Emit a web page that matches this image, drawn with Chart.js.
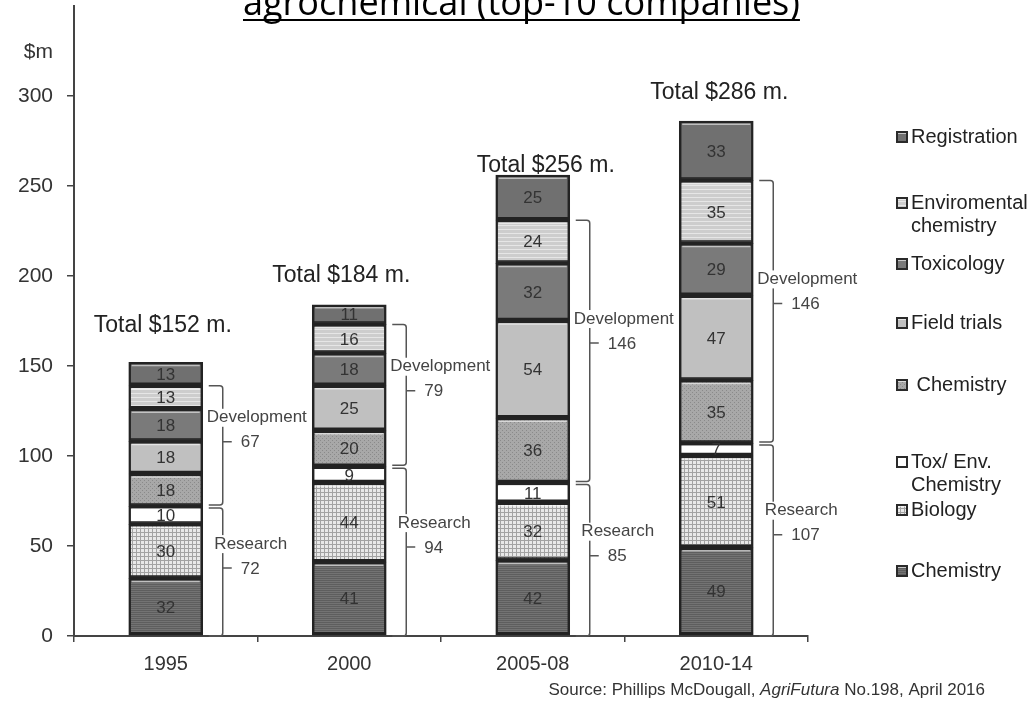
<!DOCTYPE html>
<html>
<head>
<meta charset="utf-8">
<script src="https://cdn.jsdelivr.net/npm/chart.js@4"></script>
<style>
  html, body { margin: 0; padding: 0; background: #fff; }
  #wrap { position: relative; width: 1036px; height: 712px; }
</style>
</head>
<body>
<div id="wrap"><canvas id="chart"></canvas></div>
<script>
// data ($m)
const periods = ["1995", "2000", "2005-08", "2010-14"];
const chemistryResearch = [32, 41, 42, 49];
const biology = [30, 44, 32, 51];
const toxEnvChemistry = [10, 9, 11, 7];
const chemistryDev = [18, 20, 36, 35];
const fieldTrials = [18, 25, 54, 47];
const toxicology = [18, 18, 32, 29];
const envChemistry = [13, 16, 24, 35];
const registration = [13, 11, 25, 33];
const yTicks = [0, 50, 100, 150, 200, 250, 300];
const seriesNames = ["Chemistry", "Biology", ["Tox/ Env.", "Chemistry"], " Chemistry",
    "Field trials", "Toxicology", ["Enviromental", "chemistry"], "Registration"];

const FONT = "'Liberation Sans', Arial, Helvetica, sans-serif";

// =========================
// FILL PATTERNS (grey scale)
// =========================
function makePattern(size, base, draw) {
    const c = document.createElement("canvas");
    c.width = size; c.height = size;
    const g = c.getContext("2d");
    g.fillStyle = base;
    g.fillRect(0, 0, size, size);
    if (draw) draw(g);
    return g.createPattern(c, "repeat");
}

const fills = [
    makePattern(4, "#737373", g => { g.fillStyle = "#5e5e5e"; g.fillRect(0, 0, 4, 1); g.fillRect(0, 2, 4, 1); }),
    makePattern(4, "#e8e8e8", g => { g.fillStyle = "#a2a2a2"; g.fillRect(0, 0, 4, 1); g.fillRect(0, 0, 1, 4); }),
    "#ffffff",
    makePattern(4, "#a8a8a8", g => { g.fillStyle = "#8a8a8a"; g.fillRect(0, 0, 1, 1); g.fillRect(2, 2, 1, 1); }),
    "#c0c0c0",
    "#7a7a7a",
    makePattern(4, "#cdcdcd", g => { g.fillStyle = "#e6e6e6"; g.fillRect(0, 1, 4, 1); }),
    "#707070"
];

const seriesData = [chemistryResearch, biology, toxEnvChemistry, chemistryDev,
    fieldTrials, toxicology, envChemistry, registration];

const datasets = seriesData.map((d, i) => ({
    label: Array.isArray(seriesNames[i]) ? seriesNames[i].join(" ") : seriesNames[i],
    data: d,
    backgroundColor: fills[i],
    borderColor: "#232323",
    borderWidth: 2.5,
    borderSkipped: false,
    barThickness: 74
}));

function sumAt(i, from, to) {
    let s = 0;
    for (let k = from; k < to; k++) s += seriesData[k][i];
    return s;
}

// =========================
// DECORATION PLUGIN
// =========================
const totalDx = [-3, -8, 13, 3];
const totalDy = [37, 29, 10, 29];
const legendRows = [137, 203, 264, 323, 385, 462, 510, 571];

const decor = {
    id: "decor",
    afterDatasetsDraw(chart) {
        const ctx = chart.ctx;
        const xs = chart.scales.x;
        const ys = chart.scales.y;

        // bevel + segment values
        chart.data.datasets.forEach((ds, di) => {
            chart.getDatasetMeta(di).data.forEach((bar, i) => {
                const left = bar.x - bar.width / 2;
                const right = bar.x + bar.width / 2;
                const top = Math.min(bar.y, bar.base);
                const bottom = Math.max(bar.y, bar.base);
                ctx.save();
                ctx.strokeStyle = "rgba(255,255,255,0.55)";
                ctx.lineWidth = 1.5;
                ctx.beginPath();
                ctx.moveTo(left + 3, top + 3);
                ctx.lineTo(right - 3, top + 3);
                ctx.stroke();
                ctx.strokeStyle = "#222";
                ctx.lineWidth = 1.5;
                ctx.beginPath();
                ctx.moveTo(left + 1, bottom - 2.5);
                ctx.lineTo(right - 1, bottom - 2.5);
                ctx.stroke();
                ctx.fillStyle = "#333";
                ctx.font = "17px " + FONT;
                ctx.textAlign = "center";
                ctx.textBaseline = "middle";
                ctx.fillText(String(ds.data[i]), bar.x, (top + bottom) / 2 + 1);
                ctx.restore();
            });
        });

        // totals + brackets
        periods.forEach((p, i) => {
            const cx = xs.getPixelForValue(i);
            const R = cx + 37;
            const research = sumAt(i, 0, 3);
            const dev = sumAt(i, 3, 7);
            const total = sumAt(i, 0, 8);

            ctx.save();
            ctx.fillStyle = "#222";
            ctx.font = "23px " + FONT;
            ctx.textAlign = "center";
            ctx.textBaseline = "middle";
            ctx.fillText("Total $" + total + " m.", cx + totalDx[i], ys.getPixelForValue(total) - totalDy[i]);
            ctx.restore();

            drawBracket(ctx, R, ys.getPixelForValue(research + dev), ys.getPixelForValue(research) - 1.5, "Development", dev, 54);
            drawBracket(ctx, R, ys.getPixelForValue(research) + 1.5, ys.getPixelForValue(0), "Research", research, 48);
        });
    },
    afterDraw(chart) {
        const ctx = chart.ctx;
        ctx.save();

        // title (cut off at the top like the original)
        const title = "agrochemical (top-10 companies)";
        ctx.font = "32px 'Open Sans', sans-serif";
        let w = ctx.measureText(title).width;
        const size = 32 * 557 / w;
        ctx.font = size + "px 'Open Sans', sans-serif";
        w = ctx.measureText(title).width;
        ctx.fillStyle = "#000";
        ctx.textAlign = "left";
        ctx.textBaseline = "alphabetic";
        ctx.fillText(title, 243, 15);
        ctx.fillRect(243, 19, w, 2);

        // unit label
        ctx.fillStyle = "#333";
        ctx.font = "21px " + FONT;
        ctx.textAlign = "right";
        ctx.textBaseline = "middle";
        ctx.fillText("$m", 53, 52);

        // legend, top entry = last series
        ctx.textAlign = "left";
        for (let r = 0; r < legendRows.length; r++) {
            const si = seriesData.length - 1 - r;
            const y = legendRows[r];
            ctx.fillStyle = "#2a2a2a";
            ctx.fillRect(896, y - 6, 12, 12);
            ctx.fillStyle = fills[si];
            ctx.fillRect(898, y - 4, 8, 8);
            ctx.fillStyle = "rgba(255,255,255,0.6)";
            ctx.fillRect(898, y - 4, 8, 1);
            ctx.fillStyle = "#222";
            ctx.font = "20px " + FONT;
            const lines = Array.isArray(seriesNames[si]) ? seriesNames[si] : [seriesNames[si]];
            lines.forEach((t, k) => ctx.fillText(t, 911, y + k * 23));
        }

        // source line
        const parts = [["Source: Phillips McDougall, ", ""], ["AgriFutura", "italic "], [" No.198, April 2016", ""]];
        let total = 0;
        parts.forEach(p => { ctx.font = p[1] + "17px " + FONT; total += ctx.measureText(p[0]).width; });
        let x = 985 - total;
        ctx.fillStyle = "#333";
        parts.forEach(p => {
            ctx.font = p[1] + "17px " + FONT;
            ctx.fillText(p[0], x, 690);
            x += ctx.measureText(p[0]).width;
        });
        ctx.restore();
    }
};

function drawBracket(ctx, R, yTop, yBot, word, num, wordDx) {
    const vx = R + 20;
    const ym = yBot + (yTop - yBot) * 0.53;
    ctx.save();
    ctx.strokeStyle = "#555";
    ctx.lineWidth = 1.5;
    ctx.beginPath();
    ctx.moveTo(R + 6, yTop);
    ctx.lineTo(vx - 3, yTop);
    ctx.quadraticCurveTo(vx, yTop, vx, yTop + 3);
    ctx.lineTo(vx, yBot - 3);
    ctx.quadraticCurveTo(vx, yBot, vx - 3, yBot);
    ctx.lineTo(R + 6, yBot);
    ctx.moveTo(vx, ym);
    ctx.lineTo(vx + 9, ym);
    ctx.stroke();

    ctx.font = "17px " + FONT;
    ctx.textBaseline = "middle";
    ctx.textAlign = "center";
    const wy = ym - 24;
    const tw = ctx.measureText(word).width;
    ctx.fillStyle = "#fff";
    ctx.fillRect(R + wordDx - tw / 2 - 1, wy - 9, tw + 2, 18);
    ctx.fillStyle = "#444";
    ctx.fillText(word, R + wordDx, wy);
    ctx.textAlign = "left";
    ctx.fillText(String(num), R + 38, ym + 1);
    ctx.restore();
}

Chart.defaults.font.family = FONT;
Chart.defaults.color = "#333";

new Chart(document.getElementById("chart"), {
    type: "bar",
    data: { labels: periods, datasets: datasets },
    options: {
        responsive: true,
        maintainAspectRatio: false,
        devicePixelRatio: 1,
        animation: false,
        layout: { padding: { left: 0, right: 228, top: 6, bottom: 0 } },
        plugins: { legend: { display: false }, tooltip: { enabled: false }, title: { display: false } },
        scales: {
            x: {
                stacked: true,
                offset: true,
                grid: { offset: true, drawOnChartArea: false, tickLength: 6, color: "#444", lineWidth: 1.5 },
                border: { color: "#444", width: 2 },
                ticks: { font: { size: 20 }, color: "#333", padding: 10 },
                afterFit(s) { s.height = 76; s.paddingLeft = 0; s.paddingRight = 0; }
            },
            y: {
                stacked: true,
                min: 0,
                max: 350,
                afterBuildTicks(s) { s.ticks = yTicks.map(v => ({ value: v })); },
                grid: { drawOnChartArea: false, tickLength: 7, color: "#444", lineWidth: 1.5 },
                border: { color: "#444", width: 2 },
                ticks: { font: { size: 21 }, color: "#333", padding: 14 },
                afterFit(s) { s.width = 74; s.paddingTop = 0; s.paddingBottom = 0; }
            }
        }
    },
    plugins: [decor]
});
</script>
</body>
</html>
